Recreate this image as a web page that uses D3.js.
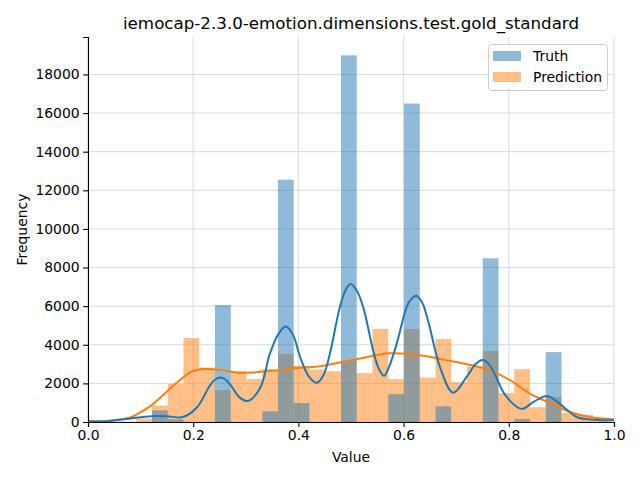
<!DOCTYPE html>
<html>
<head>
<meta charset="utf-8">
<script src="https://cdn.jsdelivr.net/npm/d3@7"></script>
<style>
  body { margin: 0; background: #fff; }
  svg { display: block; font-family: "DejaVu Sans", sans-serif; }
</style>
</head>
<body>
<svg id="chart" width="640" height="480"></svg>
<script>
// ---- data ----
const title = "iemocap-2.3.0-emotion.dimensions.test.gold_standard";
const seriesNames = ["Truth", "Prediction"];
const binEdges = [0.0917, 0.1217, 0.1516, 0.1815, 0.2115, 0.2414, 0.2714, 0.3013, 0.3313, 0.3612,
  0.3911, 0.4211, 0.4510, 0.4810, 0.5109, 0.5409, 0.5708, 0.6008, 0.6307, 0.6606,
  0.6906, 0.7205, 0.7505, 0.7804, 0.8104, 0.8403, 0.8702, 0.9002, 0.9301, 0.9601, 0.9900];
const truthCounts = [0, 600, 140, 0, 0, 6060, 0, 0, 550, 12550,
  980, 0, 0, 18990, 0, 0, 1440, 16490, 0, 815,
  0, 0, 8480, 0, 150, 0, 3620, 0, 0, 0];
const predCounts = [180, 850, 1980, 4350, 2820, 1660, 2650, 2220, 2730, 3520,
  2920, 2720, 2630, 3170, 2530, 4815, 2215, 4815, 2300, 4290,
  2060, 2870, 3690, 1490, 2735, 760, 1300, 460, 370, 200];
const truthKdeX = [0.0, 0.04, 0.08, 0.12, 0.15, 0.18, 0.207, 0.232, 0.242, 0.252, 0.261, 0.27, 0.289, 0.304,
  0.327, 0.346, 0.362, 0.376, 0.39, 0.403, 0.42, 0.435, 0.448, 0.46, 0.479, 0.49, 0.499, 0.51, 0.523,
  0.542, 0.553, 0.563, 0.573, 0.587, 0.606, 0.614, 0.624, 0.635, 0.647, 0.669,
  0.694, 0.72, 0.737, 0.75, 0.762, 0.774, 0.793, 0.824, 0.847, 0.873, 0.904, 0.929, 0.954, 1.0];
const truthKdeY = [20, 45, 180, 300, 300, 255, 750, 1900, 2200, 2300, 2200, 1950, 1250, 1090,
  1750, 3550, 4550, 4940, 4500, 3380, 2350, 2030, 2450, 3550, 5970, 6850, 7150, 6850, 5970,
  3720, 2750, 2390, 2900, 4070, 5970, 6350, 6540, 6200, 5200, 2860,
  1520, 2335, 3000, 3210, 3000, 2440, 1400, 680, 1040, 1350, 780, 260, 125, 90];
const predKdeX = [0.0, 0.04, 0.063, 0.08, 0.095, 0.12, 0.146, 0.171, 0.196, 0.219, 0.255, 0.287, 0.317,
  0.345, 0.375, 0.39, 0.438, 0.489, 0.517, 0.571, 0.612, 0.65, 0.669, 0.714, 0.764, 0.802, 0.84,
  0.878, 0.916, 0.954, 1.0];
const predKdeY = [30, 70, 140, 230, 435, 850, 1475, 2080, 2600, 2745, 2690, 2540, 2570,
  2650, 2700, 2780, 2875, 3135, 3290, 3555, 3515, 3375, 3260, 3030, 2685, 2165, 1475,
  985, 520, 260, 140];
const xTicks = [0.0, 0.2, 0.4, 0.6, 0.8, 1.0];
const yTicks = [0, 2000, 4000, 6000, 8000, 10000, 12000, 14000, 16000, 18000];

// ---- layout ----
const svg = d3.select("#chart");
const L = 88, R = 614, T = 37, B = 422;
const x = d3.scaleLinear().domain([0, 1]).range([L, R]);
const y = d3.scaleLinear().domain([0, 19940]).range([B, T]);
const blue = "#1f77b4", orange = "#ff7f0e";

// grid
const g = svg.append("g");
g.selectAll("line.gx").data(xTicks).join("line")
  .attr("x1", d => x(d)).attr("x2", d => x(d)).attr("y1", T).attr("y2", B)
  .attr("stroke", "#dadada").attr("stroke-width", 1);
g.selectAll("line.gy").data(yTicks).join("line")
  .attr("x1", L).attr("x2", R).attr("y1", d => y(d)).attr("y2", d => y(d))
  .attr("stroke", "#dadada").attr("stroke-width", 1);

// bars: Prediction first, Truth on top
function drawBars(counts, color) {
  svg.append("g").selectAll("rect").data(counts).join("rect")
    .attr("x", (d, i) => x(binEdges[i]))
    .attr("width", (d, i) => x(binEdges[i + 1]) - x(binEdges[i]))
    .attr("y", d => y(d))
    .attr("height", d => y(0) - y(d))
    .attr("fill", color).attr("fill-opacity", 0.5);
}
drawBars(predCounts, orange);
drawBars(truthCounts, blue);

// kde lines
function drawLine(xs, ys, color) {
  const line = d3.line().x(d => x(d[0])).y(d => y(d[1])).curve(d3.curveCatmullRom.alpha(0.5));
  svg.append("path").datum(xs.map((v, i) => [v, ys[i]]))
    .attr("d", line).attr("fill", "none").attr("stroke", color).attr("stroke-width", 2);
}
drawLine(predKdeX, predKdeY, orange);
drawLine(truthKdeX, truthKdeY, blue);

// axes
const fmtX = d3.format(".1f");
const xAxis = svg.append("g").attr("transform", `translate(0,${B})`)
  .call(d3.axisBottom(x).tickValues(xTicks).tickFormat(fmtX).tickSizeOuter(0).tickSize(4.9).tickPadding(3.5));
const yAxis = svg.append("g").attr("transform", `translate(${L},0)`)
  .call(d3.axisLeft(y).tickValues(yTicks).tickFormat(d3.format("d")).tickSizeOuter(0).tickSize(4.9).tickPadding(3.5));
[xAxis, yAxis].forEach(a => {
  a.selectAll("text").attr("font-family", "DejaVu Sans").attr("font-size", 13.9).attr("fill", "#000");
  a.selectAll("line").attr("stroke", "#000").attr("stroke-width", 1.1);
  a.select(".domain").attr("stroke", "#000").attr("stroke-width", 1.1);
});

// labels
svg.append("text").attr("x", (L + R) / 2).attr("y", 29).attr("text-anchor", "middle")
  .attr("font-size", 16.7).text(title);
svg.append("text").attr("x", (L + R) / 2).attr("y", 462).attr("text-anchor", "middle")
  .attr("font-size", 13.9).text("Value");
svg.append("text").attr("transform", `translate(27,${(T + B) / 2}) rotate(-90)`).attr("text-anchor", "middle")
  .attr("font-size", 13.9).text("Frequency");

// legend
const lg = svg.append("g");
lg.append("rect").attr("x", 488.5).attr("y", 44.5).attr("width", 119).attr("height", 46).attr("rx", 3)
  .attr("fill", "#fff").attr("fill-opacity", 0.8).attr("stroke", "#cccccc");
const colors = [blue, orange];
seriesNames.forEach((n, i) => {
  lg.append("rect").attr("x", 493).attr("y", 51 + i * 21).attr("width", 28).attr("height", 10)
    .attr("fill", colors[i]).attr("fill-opacity", 0.5);
  lg.append("text").attr("x", 533).attr("y", 61 + i * 21).attr("font-size", 13.9).text(n);
});
</script>
</body>
</html>
